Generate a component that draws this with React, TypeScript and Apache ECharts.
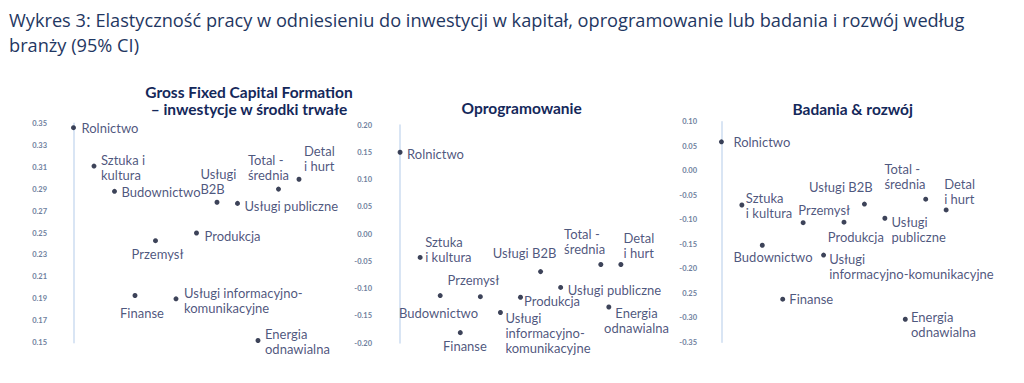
import React, { useEffect, useRef } from 'react';
import * as echarts from 'echarts';

// ---------- data ----------
const categories = [
  'Rolnictwo',
  'Sztuka i kultura',
  'Budownictwo',
  'Finanse',
  'Przemysł',
  'Usługi informacyjno-komunikacyjne',
  'Produkcja',
  'Usługi B2B',
  'Usługi publiczne',
  'Energia odnawialna',
  'Total - średnia',
  'Detal i hurt',
];

// horizontal order position of each category (x axis is hidden)
const gfcfOrder = [0, 1, 2, 3, 4, 5, 6, 7, 8, 9, 10, 11];
const softwareOrder = [0, 1, 2, 3, 4, 5, 6, 7, 8, 10.4, 10, 11];
const rdOrder = [0, 1, 2, 3, 4, 5, 6, 7, 8, 9, 10, 11];

const gfcfValues = [0.346, 0.311, 0.288, 0.193, 0.243, 0.19, 0.25, 0.278, 0.277, 0.152, 0.29, 0.299];
const softwareValues = [0.15, -0.043, -0.113, -0.181, -0.115, -0.144, -0.116, -0.069, -0.098, -0.134, -0.056, -0.056];
const rdValues = [0.059, -0.07, -0.152, -0.262, -0.106, -0.172, -0.105, -0.068, -0.097, -0.303, -0.058, -0.08];

const gfcfTicks = ['0.15', '0.17', '0.19', '0.21', '0.23', '0.25', '0.27', '0.29', '0.31', '0.33', '0.35'];
const softwareTicks = ['-0.20', '-0.15', '-0.10', '-0.05', '0.00', '0.05', '0.10', '0.15', '0.20'];
const rdTicks = ['-0.35', '-0.30', '0.25', '-0.20', '-0.15', '-0.10', '-0.05', '0.00', '0.05', '0.10'];

const gfcfLabels = ['Rolnictwo', 'Sztuka i\nkultura', 'Budownictwo', 'Finanse', 'Przemysł', 'Usługi informacyjno-\nkomunikacyjne', 'Produkcja', 'Usługi\nB2B', 'Usługi publiczne', 'Energia\nodnawialna', 'Total -\nśrednia', 'Detal\ni hurt'];
const softwareLabels = ['Rolnictwo', 'Sztuka\ni kultura', 'Budownictwo', 'Finanse', 'Przemysł', 'Usługi\ninformacyjno-\nkomunikacyjne', 'Produkcja', 'Usługi B2B', 'Usługi publiczne', 'Energia\nodnawialna', 'Total -\nśrednia', 'Detal\ni hurt'];
const rdLabels = ['Rolnictwo', 'Sztuka\ni kultura', 'Budownictwo', 'Finanse', 'Przemysł', 'Usługi\ninformacyjno-komunikacyjne', 'Produkcja', 'Usługi B2B', 'Usługi\npubliczne', 'Energia\nodnawialna', 'Total -\nśrednia', 'Detal\ni hurt'];

const mainTitle = 'Wykres 3: Elastyczność pracy w odniesieniu do inwestycji w kapitał, oprogramowanie lub badania i rozwój według\nbranży (95% CI)';
const panelTitles = ['Gross Fixed Capital Formation\n– inwestycje w środki trwałe', 'Oprogramowanie', 'Badania & rozwój'];

// ---------- layout (label placement relative to dot) ----------
type Place = [number, number, string];
const gfcfPlace: Place[] = [
  [8, 0, 'left'], [7, 1, 'left'], [7, 0.5, 'left'], [7, 17, 'center'], [2, 13, 'center'],
  [8, 2, 'left'], [8, 2.5, 'left'], [-16.6, -20.7, 'left'], [7, 3, 'left'], [7, 1, 'left'],
  [-30.6, -21.5, 'left'], [5, -21, 'left'],
];
const softwarePlace: Place[] = [
  [7, 1.5, 'left'], [5, -7.5, 'left'], [-1.7, 17, 'center'], [4.6, 13.4, 'center'], [-7, -16.7, 'center'],
  [5, 20.3, 'left'], [3.5, 4, 'left'], [-16, -18.4, 'center'], [7, 3, 'left'], [27.7, 13.5, 'center'],
  [-36.7, -23.5, 'left'], [2.6, -19.5, 'left'],
];
const rdPlace: Place[] = [
  [12, 0, 'left'], [4, 0, 'left'], [10.8, 11.7, 'center'], [6.6, 0, 'left'], [21, -12.7, 'center'],
  [5.6, 11.8, 'left'], [11.8, 14.4, 'center'], [-23.6, -17, 'center'], [6.7, 11.2, 'left'], [5.7, 5, 'left'],
  [-41.3, -22.3, 'left'], [-2, -18.2, 'left'],
];

const NAVY = '#1d2b5c';
const LABEL_FONT = 'Lato, "Open Sans", sans-serif';

function buildData(order: number[], values: number[], labels: string[], place: Place[], shift: number) {
  return categories.map((name, i) => ({
    name,
    value: [order[i], values[i] - shift],
    label: {
      show: true,
      position: 'inside',
      offset: [place[i][0], place[i][1]],
      align: place[i][2],
      verticalAlign: 'middle',
      formatter: labels[i],
      color: NAVY,
      fontFamily: LABEL_FONT,
      fontSize: 13,
      lineHeight: 15,
    },
  }));
}

function tickFormatter(ticks: string[], min: number, interval: number) {
  return (v: number) => {
    const idx = Math.round((v - min) / interval);
    return ticks[idx] ?? '';
  };
}

export default function App() {
  const ref = useRef<HTMLDivElement>(null);
  useEffect(() => {
    if (!ref.current) return;
    const chart = echarts.init(ref.current, undefined, { renderer: 'svg' });

    const grids = [
      { left: 53, top: 123.3, width: 287, height: 219.4 },
      { left: 380, top: 125, width: 281, height: 218 },
      { left: 701, top: 121.7, width: 286, height: 220.6 },
    ];

    const yAxisCommon = {
      axisLine: { show: true, lineStyle: { color: '#cddcf0', width: 1.5 } },
      axisTick: { show: false },
      splitLine: { show: false },
      axisLabel: { color: '#6f7f9e', fontSize: 7.5, fontFamily: 'Lato, sans-serif', fontWeight: 'bold', margin: 6 },
    };

    const titleFont = 'bold 15.5px Lato, sans-serif';

    const option: any = {
      animation: false,
      backgroundColor: '#ffffff',
      grid: grids.map((g) => ({ ...g, containLabel: false })),
      xAxis: [0, 1, 2].map((i) => ({ type: 'value', gridIndex: i, min: -1, max: 13, show: false })),
      yAxis: [
        { ...yAxisCommon, type: 'value', gridIndex: 0, min: 0, max: 0.2, interval: 0.02,
          axisLabel: { ...yAxisCommon.axisLabel, formatter: tickFormatter(gfcfTicks, 0, 0.02) } },
        { ...yAxisCommon, type: 'value', gridIndex: 1, min: -0.2, max: 0.2, interval: 0.05,
          axisLabel: { ...yAxisCommon.axisLabel, margin: 8, formatter: tickFormatter(softwareTicks, -0.2, 0.05) } },
        { ...yAxisCommon, type: 'value', gridIndex: 2, min: -0.35, max: 0.1, interval: 0.05,
          axisLabel: { ...yAxisCommon.axisLabel, margin: 4, formatter: tickFormatter(rdTicks, -0.35, 0.05) } },
      ],
      series: [
        { type: 'scatter', xAxisIndex: 0, yAxisIndex: 0, symbolSize: 5, itemStyle: { color: '#0d1430' },
          data: buildData(gfcfOrder, gfcfValues, gfcfLabels, gfcfPlace, 0.15) },
        { type: 'scatter', xAxisIndex: 1, yAxisIndex: 1, symbolSize: 5, itemStyle: { color: '#0d1430' },
          data: buildData(softwareOrder, softwareValues, softwareLabels, softwarePlace, 0) },
        { type: 'scatter', xAxisIndex: 2, yAxisIndex: 2, symbolSize: 5, itemStyle: { color: '#0d1430' },
          data: buildData(rdOrder, rdValues, rdLabels, rdPlace, 0) },
      ],
      graphic: [
        { type: 'text', x: 9, y: 7.5, style: { text: mainTitle, fill: '#1f3762', font: '18.2px "Open Sans", sans-serif', lineHeight: 25, textAlign: 'left', align: 'left', textVerticalAlign: 'top', verticalAlign: 'top' } },
        { type: 'text', x: 249, y: 100, style: { text: panelTitles[0], fill: '#14285a', font: titleFont, lineHeight: 17, textAlign: 'center', align: 'center', textVerticalAlign: 'middle', verticalAlign: 'middle' } },
        { type: 'text', x: 521.7, y: 108, style: { text: panelTitles[1], fill: '#14285a', font: titleFont, textAlign: 'center', align: 'center', textVerticalAlign: 'middle', verticalAlign: 'middle' } },
        { type: 'text', x: 852.7, y: 109.3, style: { text: panelTitles[2], fill: '#14285a', font: titleFont, textAlign: 'center', align: 'center', textVerticalAlign: 'middle', verticalAlign: 'middle' } },
      ],
    };
    chart.setOption(option);
    return () => chart.dispose();
  }, []);
  return <div ref={ref} style={{ position: 'fixed', left: 0, top: 0, width: 1024, height: 383 }} />;
}
